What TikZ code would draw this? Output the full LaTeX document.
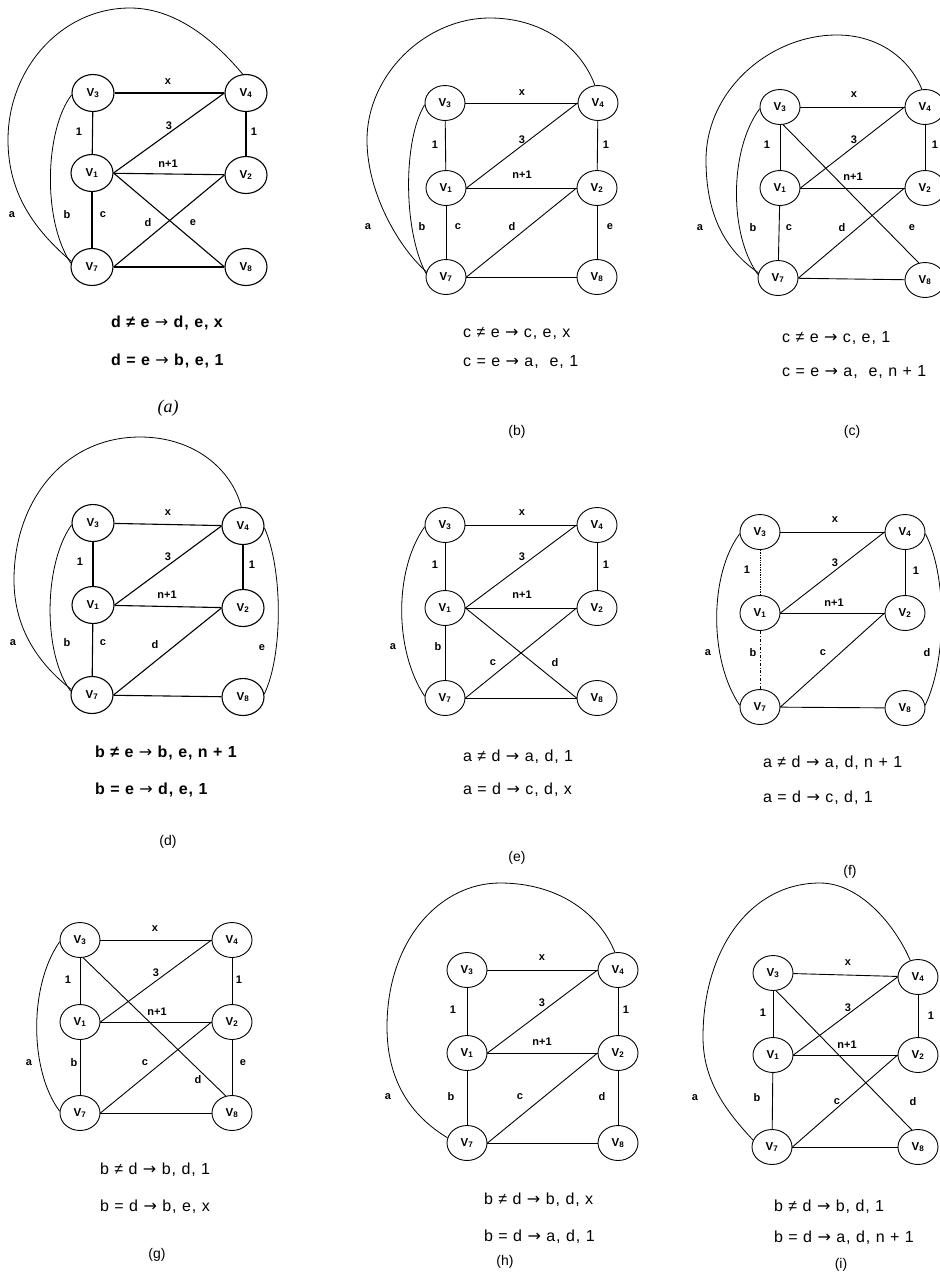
\documentclass[tikz,border=0pt]{standalone}
\usepackage{fontspec}
\setmainfont{Liberation Sans}
\newfontfamily\handfont{Liberation Serif}
\newfontfamily\symfont{DejaVu Sans}
\newfontfamily\capfont[LetterSpace=6]{Liberation Sans}
\usetikzlibrary{shapes.geometric}
\newcommand\Vn[1]{V\textsubscript{#1}}
\newcommand\arr{{\symfont\mdseries →}}
\begin{document}
\begin{tikzpicture}[x=1pt,y=-1pt,
  vx/.style={ellipse, draw, minimum width=40pt, minimum height=35pt, inner sep=0pt, font=\bfseries\fontsize{11.5}{11.5}\selectfont},
  big/.style={minimum width=42pt, minimum height=37pt},
  el/.style={font=\bfseries\fontsize{11}{11}\selectfont, inner sep=0pt},
  capt/.style={anchor=west, font=\capfont\fontsize{16}{16}\selectfont, inner sep=0pt},
  captb/.style={capt, font=\capfont\bfseries\fontsize{16}{16}\selectfont},
  plab/.style={font=\fontsize{14}{14}\selectfont, inner sep=0pt},
  arcline/.style={line width=0.8pt},
  faintdot/.style={densely dotted, line width=0.7pt},
  faintdash/.style={dash dot, line width=0.7pt}]
\fill[white] (0,0) rectangle (940,1278);
\useasboundingbox (0,0) rectangle (940,1278);

% ---------------- (a) ----------------
\begin{scope}[line width=1.1pt]
\node[vx,big] (a3) at (93,93) {\Vn3};
\node[vx,big] (a4) at (246,93) {\Vn4};
\node[vx,big] (a1) at (92,173) {\Vn1};
\node[vx,big] (a2) at (246,175) {\Vn2};
\node[vx,big] (a7) at (92,267) {\Vn7};
\node[vx,big] (a8) at (246,267) {\Vn8};
\draw (a3) -- (a4);
\draw (a3) -- (a1);
\draw (a4) -- (a2);
\draw (a1.east) -- (a4.west);
\draw (a1) -- (a2);
\draw (a1.east) -- (a8.west);
\draw (a7.east) -- (a2.west);
\draw (a1) -- (a7);
\draw (a7) -- (a8);
\draw[arcline] (a7.165) .. controls (36,231) and (8,195) .. (8,140) .. controls (8,68) and (62,8) .. (130,8) .. controls (180,8) and (220,47) .. (a4.100);
\draw[arcline] (a3.185) .. controls (45,130) and (42,220) .. (a7.170);
\end{scope}
\node[el] (aLa) at (12,215) {a};
\node[el] (aLb) at (67,215) {b};
\node[el] (aLc) at (103,215) {c};
\node[el] (aLd) at (148,223) {d};
\node[el] (aLe) at (193,223) {e};
\node[el] (aLx) at (168,82) {x};
\node[el] (aL3) at (169,126) {3};
\node[el] (aLn) at (168,164) {n+1};
\node[el] (aL1l) at (79,132) {1};
\node[el] (aL1r) at (254,132) {1};
\node[captb] (aC1) at (111,323) {d ≠ e \arr\ d, e, x};
\node[captb] (aC2) at (111,361) {d = e \arr\ b, e, 1};
\node[plab, font=\handfont\itshape\fontsize{18}{18}\selectfont] (aP) at (168,408) {(a)};

% ---------------- (b) ----------------
\begin{scope}[line width=0.9pt]
\node[vx] (b3) at (445,103) {\Vn3};
\node[vx] (b4) at (598,103) {\Vn4};
\node[vx] (b1) at (446,188) {\Vn1};
\node[vx] (b2) at (597,188) {\Vn2};
\node[vx] (b7) at (446,277) {\Vn7};
\node[vx] (b8) at (597,277) {\Vn8};
\draw (b3) -- (b4);
\draw (b3) -- (b1);
\draw (b4) -- (b2);
\draw (b1.east) -- (b4.west);
\draw (b1) -- (b2);
\draw (b7.east) -- (b2.west);
\draw (b1) -- (b7);
\draw (b2) -- (b8);
\draw (b7) -- (b8);
\draw[arcline] (b7.165) .. controls (401,250) and (367,195) .. (367,140) .. controls (367,75) and (425,18) .. (490,18) .. controls (540,18) and (580,45) .. (b4.100);
\draw[arcline] (b3.185) .. controls (403,140) and (403,230) .. (b7.170);
\end{scope}
\node[el] (bLa) at (368,227) {a};
\node[el] (bLb) at (422,227) {b};
\node[el] (bLc) at (458,227) {c};
\node[el] (bLd) at (512,227) {d};
\node[el] (bLe) at (610,227) {e};
\node[el] (bLx) at (522,93) {x};
\node[el] (bL3) at (522,140) {3};
\node[el] (bLn) at (522,175) {n+1};
\node[el] (bL1l) at (435,145) {1};
\node[el] (bL1r) at (606,145) {1};
\node[capt] (bC1) at (463,333) {c ≠ e \arr\ c, e, x};
\node[capt] (bC2) at (463,362) {c = e \arr\ a,\ \ e, 1};
\node[plab] (bP) at (517,432) {(b)};

% ---------------- (c) ----------------
\begin{scope}[line width=0.9pt]
\node[vx] (c3) at (780,107) {\Vn3};
\node[vx] (c4) at (925,107) {\Vn4};
\node[vx] (c1) at (780,188) {\Vn1};
\node[vx] (c2) at (925,188) {\Vn2};
\node[vx] (c7) at (778,278) {\Vn7};
\node[vx] (c8) at (925,280) {\Vn8};
\draw (c3) -- (c4);
\draw (c3) -- (c1);
\draw (c4) -- (c2);
\draw (c1.east) -- (c4.west);
\draw (c1) -- (c2);
\draw (c7.east) -- (c2.west);
\draw (c1) -- (c7);
\draw (c3.-80) -- (c8.110);
\draw (c7) -- (c8);
\draw[arcline] (c7.165) .. controls (725,250) and (706,215) .. (706,160) .. controls (706,90) and (770,35) .. (837,35) .. controls (880,35) and (910,60) .. (c4.100);
\draw[arcline] (c3.185) .. controls (729,150) and (729,235) .. (c7.170);
\end{scope}
\node[el] (cLa) at (700,228) {a};
\node[el] (cLb) at (753,228) {b};
\node[el] (cLc) at (789,228) {c};
\node[el] (cLd) at (842,228) {d};
\node[el] (cLe) at (912,228) {e};
\node[el] (cLx) at (854,95) {x};
\node[el] (cL3) at (854,140) {3};
\node[el] (cLn) at (853,177) {n+1};
\node[el] (cL1l) at (767,145) {1};
\node[el] (cL1r) at (935,145) {1};
\node[capt] (cC1) at (782,338) {c ≠ e \arr\ c, e, 1};
\node[capt] (cC2) at (782,372) {c = e \arr\ a,\ \ e, n + 1};
\node[plab] (cP) at (852,432) {(c)};

% ---------------- (d) ----------------
\begin{scope}[line width=1.1pt]
\node[vx,big] (d3) at (93,523) {\Vn3};
\node[vx,big] (d4) at (243,526) {\Vn4};
\node[vx,big] (d1) at (93,605) {\Vn1};
\node[vx,big] (d2) at (243,608) {\Vn2};
\node[vx,big] (d7) at (92,695) {\Vn7};
\node[vx,big] (d8) at (243,697) {\Vn8};
\draw (d3) -- (d4);
\draw (d3) -- (d1);
\draw (d4) -- (d2);
\draw (d1.east) -- (d4.west);
\draw (d1) -- (d2);
\draw (d7.east) -- (d2.west);
\draw (d1) -- (d7);
\draw (d7) -- (d8);
\draw[arcline] (d7.165) .. controls (40,665) and (14,630) .. (14,580) .. controls (14,500) and (65,437) .. (140,437) .. controls (195,437) and (232,470) .. (d4.95);
\draw[arcline] (d3.185) .. controls (43,565) and (43,655) .. (d7.170);
\draw[arcline] (d4.-5) .. controls (283,570) and (283,655) .. (d8.8);
\end{scope}
\node[el] (dLa) at (13,643) {a};
\node[el] (dLb) at (67,643) {b};
\node[el] (dLc) at (103,643) {c};
\node[el] (dLd) at (155,645) {d};
\node[el] (dLe) at (262,648) {e};
\node[el] (dLx) at (168,513) {x};
\node[el] (dL3) at (168,557) {3};
\node[el] (dLn) at (167,595) {n+1};
\node[el] (dL1l) at (80,562) {1};
\node[el] (dL1r) at (252,565) {1};
\node[captb] (dC1) at (95,753) {b ≠ e \arr\ b, e, n + 1};
\node[captb] (dC2) at (95,790) {b = e \arr\ d, e, 1};
\node[plab] (dP) at (168,842) {(d)};

% ---------------- (e) ----------------
\begin{scope}[line width=0.9pt]
\node[vx] (e3) at (445,525) {\Vn3};
\node[vx] (e4) at (597,525) {\Vn4};
\node[vx] (e1) at (445,608) {\Vn1};
\node[vx] (e2) at (597,608) {\Vn2};
\node[vx] (e7) at (445,698) {\Vn7};
\node[vx] (e8) at (597,698) {\Vn8};
\draw (e3) -- (e4);
\draw (e3) -- (e1);
\draw (e4) -- (e2);
\draw (e1.east) -- (e4.west);
\draw (e1) -- (e2);
\draw (e1) -- (e7);
\draw (e7.east) -- (e2.west);
\draw (e1.east) -- (e8.west);
\draw (e7) -- (e8);
\draw[arcline] (e3.185) .. controls (394,570) and (394,650) .. (e7.175);
\end{scope}
\node[el] (eLa) at (393,647) {a};
\node[el] (eLb) at (438,647) {b};
\node[el] (eLc) at (493,663) {c};
\node[el] (eLd) at (555,663) {d};
\node[el] (eLx) at (522,513) {x};
\node[el] (eL3) at (522,557) {3};
\node[el] (eLn) at (522,595) {n+1};
\node[el] (eL1l) at (435,565) {1};
\node[el] (eL1r) at (606,565) {1};
\node[capt] (eC1) at (463,757) {a ≠ d \arr\ a, d, 1};
\node[capt] (eC2) at (463,790) {a = d \arr\ c, d, x};
\node[plab] (eP) at (517,858) {(e)};

% ---------------- (f) ----------------
\begin{scope}[line width=0.9pt]
\node[vx] (f3) at (760,532) {\Vn3};
\node[vx] (f4) at (905,532) {\Vn4};
\node[vx] (f1) at (760,613) {\Vn1};
\node[vx] (f2) at (905,613) {\Vn2};
\node[vx] (f7) at (760,707) {\Vn7};
\node[vx] (f8) at (905,708) {\Vn8};
\draw (f3) -- (f4);
\draw[faintdot] (f3) -- (f1);
\draw (f4) -- (f2);
\draw (f1.east) -- (f4.west);
\draw (f1) -- (f2);
\draw (f7.east) -- (f2.west);
\draw[faintdash] (f1) -- (f7);
\draw (f7) -- (f8);
\draw[arcline] (f3.185) .. controls (709,575) and (709,660) .. (f7.175);
\draw[arcline] (f4.-5) .. controls (947,575) and (947,660) .. (f8.8);
\end{scope}
\node[el] (fLa) at (708,653) {a};
\node[el] (fLb) at (753,653) {b};
\node[el] (fLc) at (823,653) {c};
\node[el] (fLd) at (927,653) {d};
\node[el] (fLx) at (835,520) {x};
\node[el] (fL3) at (835,563) {3};
\node[el] (fLn) at (834,603) {n+1};
\node[el] (fL1l) at (747,570) {1};
\node[el] (fL1r) at (916,571) {1};
\node[capt] (fC1) at (763,763) {a ≠ d \arr\ a, d, n + 1};
\node[capt] (fC2) at (763,798) {a = d \arr\ c, d, 1};
\node[plab] (fP) at (850,872) {(f)};

% ---------------- (g) ----------------
\begin{scope}[line width=0.9pt]
\node[vx] (g3) at (80,940) {\Vn3};
\node[vx] (g4) at (232,940) {\Vn4};
\node[vx] (g1) at (80,1022) {\Vn1};
\node[vx] (g2) at (232,1022) {\Vn2};
\node[vx] (g7) at (80,1113) {\Vn7};
\node[vx] (g8) at (232,1113) {\Vn8};
\draw (g3) -- (g4);
\draw (g3) -- (g1);
\draw (g4) -- (g2);
\draw (g1.east) -- (g4.west);
\draw (g1) -- (g2);
\draw (g1) -- (g7);
\draw (g7.east) -- (g2.west);
\draw (g3.-80) -- (g8.110);
\draw (g2) -- (g8);
\draw (g7) -- (g8);
\draw[arcline] (g3.185) .. controls (29,985) and (29,1070) .. (g7.175);
\end{scope}
\node[el] (gLa) at (29,1063) {a};
\node[el] (gLb) at (74,1063) {b};
\node[el] (gLc) at (145,1063) {c};
\node[el] (gLd) at (198,1080) {d};
\node[el] (gLe) at (243,1063) {e};
\node[el] (gLx) at (155,929) {x};
\node[el] (gL3) at (156,973) {3};
\node[el] (gLn) at (157,1012) {n+1};
\node[el] (gL1l) at (68,980) {1};
\node[el] (gL1r) at (239,980) {1};
\node[capt] (gC1) at (100,1170) {b ≠ d \arr\ b, d, 1};
\node[capt] (gC2) at (100,1207) {b = d \arr\ b, e, x};
\node[plab] (gP) at (157,1255) {(g)};

% ---------------- (h) ----------------
\begin{scope}[line width=0.9pt]
\node[vx] (h3) at (467,970) {\Vn3};
\node[vx] (h4) at (618,970) {\Vn4};
\node[vx] (h1) at (467,1053) {\Vn1};
\node[vx] (h2) at (618,1053) {\Vn2};
\node[vx] (h7) at (467,1143) {\Vn7};
\node[vx] (h8) at (618,1143) {\Vn8};
\draw (h3) -- (h4);
\draw (h3) -- (h1);
\draw (h4) -- (h2);
\draw (h1.east) -- (h4.west);
\draw (h1) -- (h2);
\draw (h1) -- (h7);
\draw (h7.east) -- (h2.west);
\draw (h2) -- (h8);
\draw (h7) -- (h8);
\draw[arcline] (h7.165) .. controls (410,1115) and (387,1080) .. (387,1027) .. controls (387,940) and (440,883) .. (500,883) .. controls (560,883) and (600,915) .. (h4.100);
\end{scope}
\node[el] (hLa) at (388,1097) {a};
\node[el] (hLb) at (451,1097) {b};
\node[el] (hLc) at (520,1097) {c};
\node[el] (hLd) at (602,1097) {d};
\node[el] (hLx) at (542,958) {x};
\node[el] (hL3) at (542,1003) {3};
\node[el] (hLn) at (542,1042) {n+1};
\node[el] (hL1l) at (453,1010) {1};
\node[el] (hL1r) at (626,1010) {1};
\node[capt] (hC1) at (484,1200) {b ≠ d \arr\ b, d, x};
\node[capt] (hC2) at (484,1237) {b = d \arr\ a, d, 1};
\node[plab] (hP) at (505,1262) {(h)};

% ---------------- (i) ----------------
\begin{scope}[line width=0.9pt]
\node[vx] (i3) at (773,973) {\Vn3};
\node[vx] (i4) at (918,977) {\Vn4};
\node[vx] (i1) at (773,1055) {\Vn1};
\node[vx] (i2) at (918,1055) {\Vn2};
\node[vx] (i7) at (772,1147) {\Vn7};
\node[vx] (i8) at (918,1147) {\Vn8};
\draw (i3) -- (i4);
\draw (i3) -- (i1);
\draw (i4) -- (i2);
\draw (i1.east) -- (i4.west);
\draw (i1) -- (i2);
\draw (i1) -- (i7);
\draw (i7.east) -- (i2.west);
\draw (i3.-80) -- (i8.110);
\draw (i7) -- (i8);
\draw[arcline] (i7.160) .. controls (725,1110) and (703,1080) .. (703,1037) .. controls (703,950) and (750,883) .. (820,883) .. controls (860,883) and (895,925) .. (i4.115);
\end{scope}
\node[el] (iLa) at (695,1098) {a};
\node[el] (iLb) at (757,1098) {b};
\node[el] (iLc) at (837,1102) {c};
\node[el] (iLd) at (913,1102) {d};
\node[el] (iLx) at (848,963) {x};
\node[el] (iL3) at (848,1008) {3};
\node[el] (iLn) at (847,1045) {n+1};
\node[el] (iL1l) at (763,1013) {1};
\node[el] (iL1r) at (931,1016) {1};
\node[capt] (iC1) at (774,1207) {b ≠ d \arr\ b, d, 1};
\node[capt] (iC2) at (774,1238) {b = d \arr\ a, d, n + 1};
\node[plab] (iP) at (841,1265) {(i)};
\end{tikzpicture}
\end{document}
